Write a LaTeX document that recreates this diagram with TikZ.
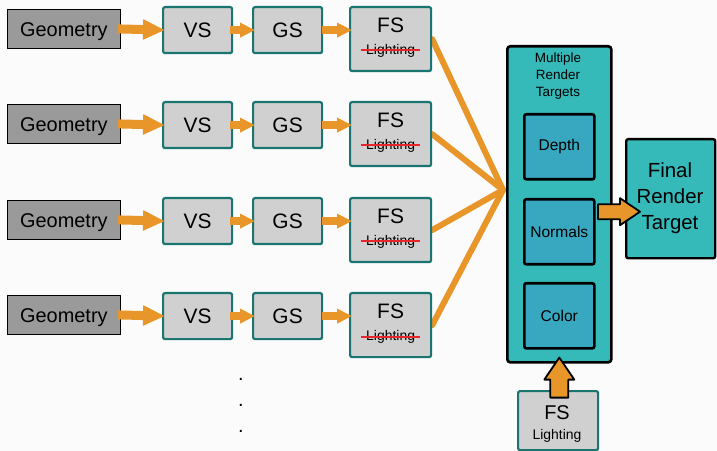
\documentclass[tikz,border=0pt]{standalone}
\usepackage{fontspec}
\setmainfont{Liberation Sans}
\usetikzlibrary{arrows.meta,calc,backgrounds}
\definecolor{orng}{HTML}{E8962A}
\definecolor{geogray}{HTML}{9A9A9A}
\definecolor{boxgray}{HTML}{D0D0D0}
\definecolor{tealdark}{HTML}{1A7470}
\definecolor{tealfill}{HTML}{35B9B9}
\definecolor{innerfill}{HTML}{38A8C0}
\definecolor{strikered}{HTML}{E8262A}
\definecolor{bgcol}{HTML}{FBFBFB}
\begin{document}
\begin{tikzpicture}[x=1bp,y=-1bp,
  geo/.style={draw=black, fill=geogray, line width=0.8bp, minimum width=113bp, minimum height=39bp,
    anchor=north west, inner sep=0pt, text height=14.4bp, text depth=0pt, font=\fontsize{20}{24}\selectfont},
  shbox/.style={draw=tealdark, fill=boxgray, line width=2.2bp, rounded corners=2bp, anchor=north west,
    minimum width=69bp, minimum height=46bp, inner sep=0pt, text height=15bp, text depth=0pt,
    font=\fontsize{21}{24}\selectfont},
  fsbox/.style={draw=tealdark, fill=boxgray, line width=2.2bp, rounded corners=2bp, anchor=north west,
    minimum width=81bp, minimum height=64bp, inner sep=0pt},
  bigtxt/.style={anchor=base, inner sep=0pt, font=\fontsize{21}{24}\selectfont},
  smalltxt/.style={anchor=base, inner sep=0pt, font=\fontsize{14}{16}\selectfont},
  strike/.style={draw=strikered, line width=2bp},
  feed/.style={draw=orng, line width=6bp, line cap=round},
  bigarrow/.style={draw=orng, line width=9bp, -{Triangle[length=22bp,width=19bp]}},
  smallarrow/.style={draw=orng, line width=7.5bp, -{Triangle[length=15bp,width=14bp]}},
  blockarrow/.style={draw=black, fill=orng, line width=1.8bp, line join=round},
  mrtbox/.style={draw=black, fill=tealfill, line width=2.6bp, rounded corners=3bp, anchor=north west,
    minimum width=104bp, minimum height=316bp, inner sep=0pt},
  innerbox/.style={draw=black, fill=innerfill, line width=2.6bp, rounded corners=2bp, anchor=north west,
    minimum width=70bp, minimum height=65bp, inner sep=0pt, font=\fontsize{15.6}{18}\selectfont},
  finalbox/.style={draw=black, fill=tealfill, line width=2.4bp, rounded corners=2bp, anchor=north west,
    minimum width=89bp, minimum height=119bp, inner sep=0pt},
  dottxt/.style={anchor=base, inner sep=0pt, font=\fontsize{20}{24}\selectfont}
]
\useasboundingbox (0,0) rectangle (717,451);

% rows
\foreach \i/\t in {1/6,2/101,3/197,4/292}{
  \node[geo] (g\i) at (7,\t+3) {Geometry};
  \node[shbox] (v\i) at (162,\t) {VS};
  \node[shbox] (s\i) at (252,\t) {GS};
  \node[fsbox] (f\i) at (349,\t) {};
  \node[bigtxt] (ft\i) at ($(f\i.north)+(0,27)$) {FS};
  \node[smalltxt] (fl\i) at ($(f\i.north)+(0,49)$) {Lighting};
  \draw[strike] ($(fl\i.base west)+(-5,-4.5)$) -- ($(fl\i.base east)+(5,-4.5)$);
  \draw[bigarrow] ([xshift=-3bp]g\i.east) -- ([xshift=3bp]v\i.west);
  \draw[smallarrow] ([xshift=-3bp]v\i.east) -- ([xshift=3bp]s\i.west);
  \draw[smallarrow] ([xshift=-1bp]s\i.east) -- ([xshift=3bp]f\i.west |- s\i.east);
}

% convergence lines (behind boxes)
\coordinate (conv) at (503,190);
\begin{scope}[on background layer]
  \fill[bgcol] (0,0) rectangle (717,451);
  \foreach \i in {1,2,3,4}{
    \draw[feed] (f\i.east) -- (conv);
  }
\end{scope}

% multiple render targets
\node[mrtbox] (mrt) at (506,45) {};
\node[align=center, inner sep=0pt, font=\fontsize{13.5}{17.5}\selectfont] (mrtl) at (558,76)
  {Multiple\\Render\\Targets};
\node[innerbox] (depth) at (523,113) {Depth};
\node[innerbox] (normals) at (523,198) {Normals};
\node[innerbox] (color) at (523,282) {Color};

% final render target
\node[finalbox] (fin) at (625,138) {};
\node[align=center, inner sep=0pt, font=\fontsize{20.5}{26}\selectfont] (finl) at (670,198)
  {Final\\Render\\Target};

% bottom FS lighting
\node[draw=tealdark, fill=boxgray, line width=2.2bp, rounded corners=2bp, anchor=north west,
  minimum width=80bp, minimum height=59bp, inner sep=0pt] (fsb) at (517,390) {};
\node[anchor=center, inner sep=0pt, font=\fontsize{20}{24}\selectfont] (fsbt) at (557,413) {FS};
\node[anchor=center, inner sep=0pt, font=\fontsize{14}{16}\selectfont] (fsbl) at (557,436) {Lighting};

% block arrow MRT -> Final
\begin{scope}[shift={($(fin.west)+(15,13)$)}]
  \draw[blockarrow] (-42,-7.5) -- (-20,-7.5) -- (-20,-13.5) -- (0,0) -- (-20,13.5) -- (-20,7.5) -- (-42,7.5) -- cycle;
\end{scope}

% block arrow FS lighting -> MRT
\begin{scope}[shift={($(mrt.south)+(0,-6)$)}]
  \draw[blockarrow] (0,0) -- (15,22) -- (9,22) -- (9,40) -- (-9,40) -- (-9,22) -- (-15,22) -- cycle;
\end{scope}

% vertical ellipsis
\node[dottxt] (d1) at (241,380.5) {.};
\node[dottxt] (d2) at (241,406.5) {.};
\node[dottxt] (d3) at (241,432.5) {.};
\end{tikzpicture}
\end{document}
